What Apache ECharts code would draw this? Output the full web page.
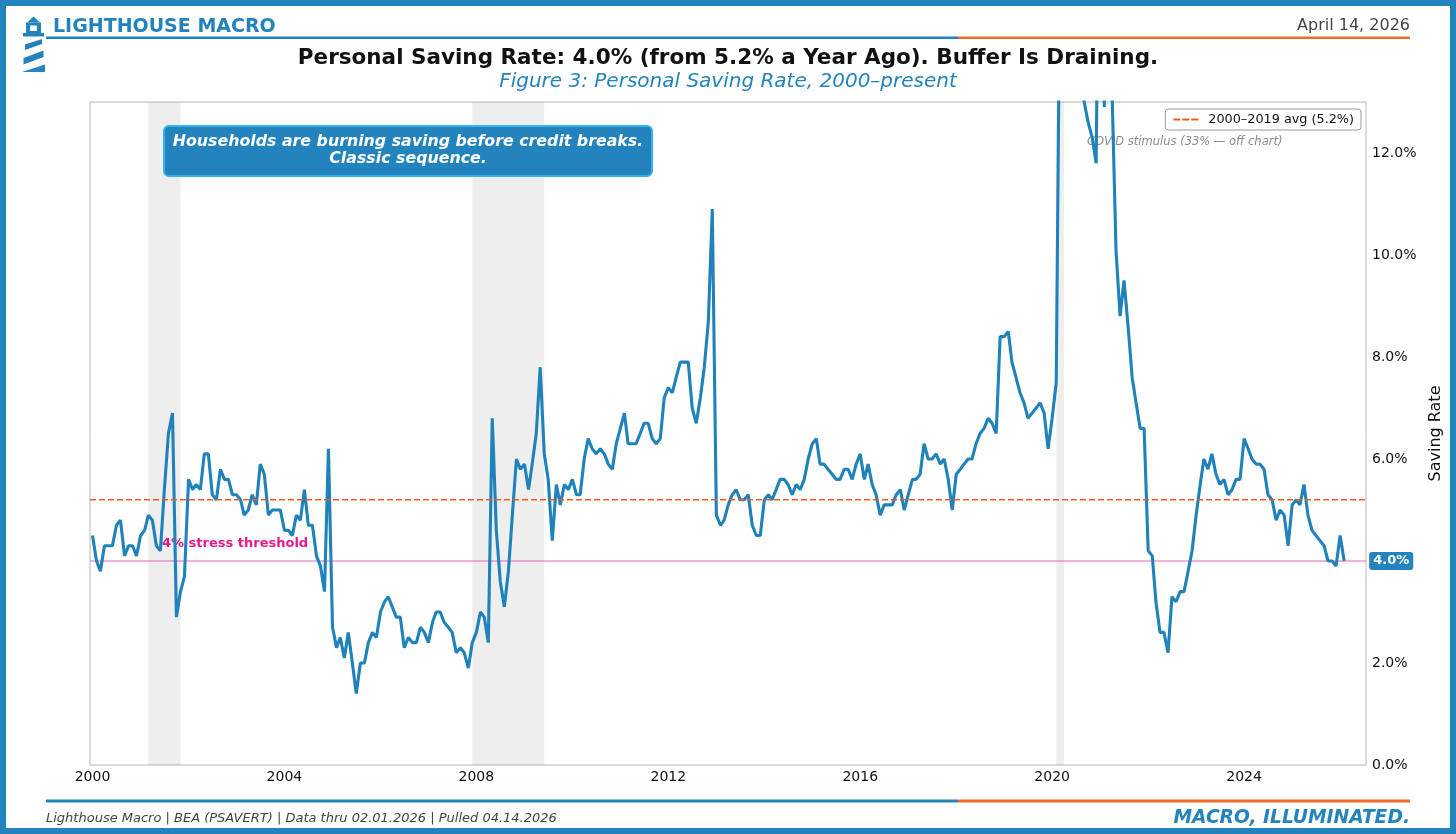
<!DOCTYPE html>
<html>
<head>
<meta charset="utf-8">
<script src="https://cdn.jsdelivr.net/npm/echarts@6/dist/echarts.min.js"></script>
<style>
html, body { margin: 0; padding: 0; background: #fff; }
#chart_panel { width: 1456px; height: 834px; }
</style>
</head>
<body>
<div id="chart_panel"></div>
<script>
// personal saving rate, monthly, % (Jan of each year first)
var rates2000s = [
	4.5, 4.0, 3.8, 4.3, 4.3, 4.3, 4.7, 4.8, 4.1, 4.3, 4.3, 4.1,
	4.5, 4.6, 4.9, 4.8, 4.3, 4.2, 5.4, 6.5, 6.9, 2.9, 3.4, 3.7,
	5.6, 5.4, 5.5, 5.4, 6.1, 6.1, 5.3, 5.2, 5.8, 5.6, 5.6, 5.3,
	5.3, 5.2, 4.9, 5.0, 5.3, 5.1, 5.9, 5.7, 4.9, 5.0, 5.0, 5.0,
	4.6, 4.6, 4.5, 4.9, 4.8, 5.4, 4.7, 4.7, 4.1, 3.9, 3.4, 6.2,
	2.7, 2.3, 2.5, 2.1, 2.6, 2.0, 1.4, 2.0, 2.0, 2.4, 2.6, 2.5,
	3.0, 3.2, 3.3, 3.1, 2.9, 2.9, 2.3, 2.5, 2.4, 2.4, 2.7, 2.6,
	2.4, 2.8, 3.0, 3.0, 2.8, 2.7, 2.6, 2.2, 2.3, 2.2, 1.9, 2.4,
	2.6, 3.0, 2.9, 2.4, 6.8, 4.6, 3.6, 3.1, 3.8, 4.9, 6.0, 5.8,
	5.9, 5.4, 5.9, 6.5, 7.8, 6.1, 5.6, 4.4, 5.5, 5.1, 5.5, 5.4
];
var rates2010s = [
	5.6, 5.3, 5.3, 6.0, 6.4, 6.2, 6.1, 6.2, 6.1, 5.9, 5.8, 6.3,
	6.6, 6.9, 6.3, 6.3, 6.3, 6.5, 6.7, 6.7, 6.4, 6.3, 6.4, 7.2,
	7.4, 7.3, 7.6, 7.9, 7.9, 7.9, 7.0, 6.7, 7.2, 7.8, 8.7, 10.9,
	4.9, 4.7, 4.8, 5.1, 5.3, 5.4, 5.2, 5.2, 5.3, 4.7, 4.5, 4.5,
	5.2, 5.3, 5.2, 5.4, 5.6, 5.6, 5.5, 5.3, 5.5, 5.4, 5.6, 6.0,
	6.3, 6.4, 5.9, 5.9, 5.8, 5.7, 5.6, 5.6, 5.8, 5.8, 5.6, 5.9,
	6.1, 5.6, 5.9, 5.5, 5.3, 4.9, 5.1, 5.1, 5.1, 5.3, 5.4, 5.0,
	5.3, 5.6, 5.6, 5.7, 6.3, 6.0, 6.0, 6.1, 5.9, 6.0, 5.6, 5.0,
	5.7, 5.8, 5.9, 6.0, 6.0, 6.3, 6.5, 6.6, 6.8, 6.7, 6.5, 8.4,
	8.4, 8.5, 7.9, 7.6, 7.3, 7.1, 6.8, 6.9, 7.0, 7.1, 6.9, 6.2
];
var rates2020s = [
	6.8, 7.5, 16.0, 33.0, 24.5, 19.5, 19.0, 14.5, 13.0, 12.6, 12.3, 11.8,
	19.8, 12.9, 26.6, 13.2, 10.1, 8.8, 9.5, 8.6, 7.6, 7.1, 6.6, 6.6,
	4.2, 4.1, 3.2, 2.6, 2.6, 2.2, 3.3, 3.2, 3.4, 3.4, 3.8, 4.2,
	4.9, 5.5, 6.0, 5.8, 6.1, 5.7, 5.5, 5.6, 5.3, 5.4, 5.6, 5.6,
	6.4, 6.2, 6.0, 5.9, 5.9, 5.8, 5.3, 5.2, 4.8, 5.0, 4.9, 4.3,
	5.1, 5.2, 5.1, 5.5, 4.9, 4.6, 4.5, 4.4, 4.3, 4.0, 4.0, 3.9,
	4.5, 4.0
];
var startYear = 2000;
var tickYears = [2000, 2004, 2008, 2012, 2016, 2020, 2024];
var recessions = [['2001-03-01', '2001-11-01'], ['2007-12-01', '2009-06-01'], ['2020-02-01', '2020-04-01']];
var avgRate = 5.2;
var stressLevel = 4.0;
var avgName = '2000\u20132019 avg (5.2%)';

var brandBlue = '#2384bd';
var brandOrange = '#f26a2c';
var avgColor = '#ee5d24';
var font = '"DejaVu Sans", sans-serif';

var allRates = rates2000s.concat(rates2010s, rates2020s);
var seriesData = [];
for (var i = 0; i < allRates.length; i++) {
	seriesData.push([Date.UTC(startYear, i, 1), allRates[i]]);
}
var lastValue = allRates[allRates.length - 1];
var xMin = Date.UTC(1999, 11, 13);
var xMax = Date.UTC(2026, 6, 17);

var myChart = echarts.init(document.getElementById('chart_panel'));

var option = {
	animation: false,
	backgroundColor: '#fff',
	textStyle: { fontFamily: font },
	grid: {
		left: 90, right: 90, top: 102, bottom: 69,
		show: true, borderColor: '#b8b8b8', borderWidth: 1, backgroundColor: 'transparent'
	},
	legend: {
		data: [{ name: avgName, icon: 'path://M0 0H7V2H0ZM9 0H16V2H9ZM18 0H25V2H18Z' }],
		right: 95, top: 109,
		backgroundColor: '#fff', borderColor: '#9a9a9a', borderWidth: 1, borderRadius: 3,
		padding: [4, 7, 4, 8],
		itemWidth: 25, itemHeight: 2,
		textStyle: { fontSize: 12.8, color: '#111', padding: [0, 0, 0, 5] }
	},
	xAxis: {
		type: 'value', min: xMin, max: xMax,
		splitLine: { show: false }, axisLine: { show: false }, axisTick: { show: false },
		axisLabel: {
			customValues: tickYears.map(function (y) { return Date.UTC(y, 0, 1); }),
			formatter: function (v) { return String(new Date(v).getUTCFullYear()); },
			fontSize: 14, color: '#111', margin: 5
		}
	},
	yAxis: {
		type: 'value', position: 'right', min: 0, max: 13, interval: 2,
		splitLine: { show: false }, axisLine: { show: false }, axisTick: { show: false },
		axisLabel: {
			formatter: function (v) { return v.toFixed(1) + '%'; },
			showMaxLabel: false, fontSize: 14, color: '#111', margin: 6
		},
		name: 'Saving Rate', nameLocation: 'middle', nameRotate: 90, nameGap: 57,
		nameTextStyle: { fontSize: 16, color: '#111' }
	},
	series: [
		{
			name: 'Personal Saving Rate',
			type: 'line',
			data: seriesData,
			symbol: 'none',
			clip: true,
			silent: true,
			z: 3,
			lineStyle: { color: '#1f82bb', width: 3.1 },
			itemStyle: { color: '#1f82bb' },
			endLabel: {
				show: true, distance: 5, offset: [20, 0],
				formatter: function () { return lastValue.toFixed(1) + '%'; },
				color: '#fff', fontWeight: 'bold', fontSize: 13,
				backgroundColor: brandBlue, borderRadius: 3, padding: [3, 4, 2, 4]
			},
			markArea: {
				silent: true,
				itemStyle: { color: 'rgba(0,0,0,0.065)' },
				data: recessions.map(function (r) {
					return [{ xAxis: Date.parse(r[0]) }, { xAxis: Date.parse(r[1]) }];
				})
			}
		},
		{
			name: '4% stress threshold',
			type: 'line',
			data: [[xMin, stressLevel], [xMax, stressLevel]],
			symbol: 'none',
			silent: true,
			z: 2,
			lineStyle: { color: '#ea62b8', width: 1 },
			itemStyle: { color: '#ea62b8' }
		},
		{
			name: avgName,
			type: 'line',
			data: [[xMin, avgRate], [xMax, avgRate]],
			symbol: 'none',
			silent: true,
			z: 4,
			lineStyle: { color: avgColor, width: 1.6, type: [6, 3] },
			itemStyle: { color: avgColor }
		}
	],
	graphic: [
		{ type: 'rect', z: 100, silent: true, shape: { x: 3, y: 3, width: 1450, height: 828 }, style: { fill: 'none', stroke: brandBlue, lineWidth: 6 } },
		// logo
		{ type: 'polygon', shape: { points: [[27, 22.5], [33.5, 16.5], [40, 22.5]] }, style: { fill: brandBlue } },
		{ type: 'rect', shape: { x: 26, y: 22.5, width: 15, height: 10.5 }, style: { fill: brandBlue } },
		{ type: 'rect', shape: { x: 30, y: 25.5, width: 7, height: 5.5 }, style: { fill: '#fff' } },
		{ type: 'rect', shape: { x: 23, y: 33, width: 21, height: 3.5 }, style: { fill: brandBlue } },
		{ type: 'polygon', shape: { points: [[25, 44.5], [42, 39], [42, 44], [25, 50]] }, style: { fill: brandBlue } },
		{ type: 'polygon', shape: { points: [[23.5, 58], [43.5, 50.5], [43.5, 57], [23.5, 64.5]] }, style: { fill: brandBlue } },
		{ type: 'polygon', shape: { points: [[22, 72], [45, 64.5], [45, 72]] }, style: { fill: brandBlue } },
		{ type: 'text', x: 53, y: 27, style: { text: 'LIGHTHOUSE MACRO', fill: brandBlue, font: 'bold 19px ' + font, verticalAlign: 'middle' } },
		{ type: 'text', x: 1410, y: 25.5, style: { text: 'April 14, 2026', fill: '#444', font: '16px ' + font, align: 'right', verticalAlign: 'middle' } },
		{ type: 'rect', shape: { x: 46, y: 36.5, width: 912, height: 2.5 }, style: { fill: brandBlue } },
		{ type: 'rect', shape: { x: 958, y: 36.5, width: 452, height: 2.5 }, style: { fill: brandOrange } },
		// titles
		{ type: 'text', x: 728, y: 58, style: { text: 'Personal Saving Rate: 4.0% (from 5.2% a Year Ago). Buffer Is Draining.', fill: '#111', font: 'bold 21.5px ' + font, align: 'center', verticalAlign: 'middle' } },
		{ type: 'text', x: 728, y: 82, style: { text: 'Figure 3: Personal Saving Rate, 2000\u2013present', fill: brandBlue, font: 'italic 20px ' + font, align: 'center', verticalAlign: 'middle' } },
		// callout
		{ type: 'rect', z: 50, shape: { x: 164, y: 126, width: 488, height: 50, r: 5 }, style: { fill: brandBlue, stroke: '#33b2ec', lineWidth: 2 } },
		{ type: 'text', z: 51, x: 408, y: 150.5, style: { text: 'Households are burning saving before credit breaks.\nClassic sequence.', fill: '#fff', font: 'italic bold 15.8px ' + font, lineHeight: 17.6, align: 'center', verticalAlign: 'middle' } },
		{ type: 'text', z: 1, x: 1087, y: 142, style: { text: 'COVID stimulus (33% \u2014 off chart)', fill: '#8a8a8a', font: 'italic 11.5px ' + font, verticalAlign: 'middle' } },
		{ type: 'text', z: 1, x: 162, y: 544, style: { text: '4% stress threshold', fill: '#e8198b', font: 'bold 13px ' + font, verticalAlign: 'middle' } },
		// footer
		{ type: 'rect', shape: { x: 46, y: 799.5, width: 912, height: 3 }, style: { fill: brandBlue } },
		{ type: 'rect', shape: { x: 958, y: 799.5, width: 452, height: 3 }, style: { fill: brandOrange } },
		{ type: 'text', x: 46, y: 819, style: { text: 'Lighthouse Macro | BEA (PSAVERT) | Data thru 02.01.2026 | Pulled 04.14.2026', fill: '#444', font: 'italic 13px ' + font, verticalAlign: 'middle' } },
		{ type: 'text', x: 1410, y: 818, style: { text: 'MACRO, ILLUMINATED.', fill: brandBlue, font: 'italic bold 18.7px ' + font, align: 'right', verticalAlign: 'middle' } }
	]
};

myChart.setOption(option);
window.onresize = myChart.resize;
</script>
</body>
</html>
